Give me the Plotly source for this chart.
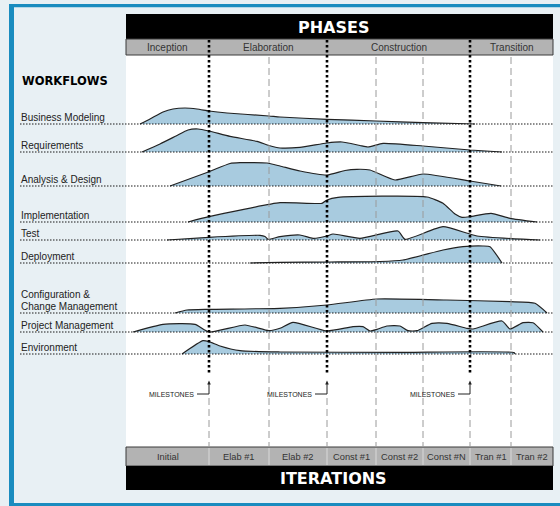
import plotly.graph_objects as go

# ------------------------------------------------------------------ data
phase_names = ["Inception", "Elaboration", "Construction", "Transition"]
phase_edges = [126, 209, 327, 470, 553]          # time axis positions
iteration_names = ["Initial", "Elab #1", "Elab #2", "Const #1", "Const #2",
                   "Const #N", "Tran #1", "Tran #2"]
iteration_edges = [126, 209, 269, 327, 376, 423, 470, 511, 553]
milestones = [209, 327, 470]

workflow_names = ["Business Modeling", "Requirements", "Analysis & Design",
                  "Implementation", "Test", "Deployment",
                  "Configuration &\nChange Management", "Project Management",
                  "Environment"]

# effort profiles: time positions and relative effort (height)
bm_t = [140, 150, 163, 173, 185, 197, 209, 227, 269, 280, 327, 376, 423, 475]
bm_h = [0, 5, 12, 15, 16, 15, 13, 11, 8, 7, 4.7, 3, 1.3, 0]

req_t = [142, 160, 176, 188, 198, 209, 230, 257, 269, 280, 300, 327, 342, 360, 368, 383, 423, 470, 502]
req_h = [0, 8, 16, 22, 23, 21, 15.6, 10.6, 6.5, 4, 4.6, 9, 10, 6.5, 5, 8.6, 6, 2, 0]

ad_t = [170, 209, 230, 240, 267, 280, 300, 327, 345, 357, 370, 395, 423, 470, 501]
ad_h = [0, 14.3, 22.5, 23.3, 23, 20, 15, 11, 15.5, 16.7, 16, 6, 12, 5, 0]

impl_t = [188, 209, 280, 322, 327, 338, 427, 443, 455, 462, 470, 491, 510, 537]
impl_h = [0, 5.3, 19.3, 18.7, 22, 24.7, 25, 18.7, 8, 4.7, 5.3, 8.7, 3.7, 0]

test_t = [167, 209, 260, 265, 268, 280, 300, 313, 327, 333, 360, 398, 405, 443, 477, 540]
test_h = [0, 2.7, 4.7, 3.5, 0.7, 3.3, 5, 1.7, 4, 6, 1.7, 9, 0.7, 13.3, 4, 0]

dep_t = [250, 280, 330, 380, 403, 443, 463, 483, 490, 502]
dep_h = [0, 0.7, 1, 1.5, 3, 13, 16.3, 17, 16.3, 0]

ccm_t = [175, 187, 209, 280, 327, 377, 447, 510, 535, 547]
ccm_h = [0, 3, 3.7, 4.7, 8, 14, 13, 11.3, 9.7, 0]

pm_t = [133, 163, 195, 209, 245, 269, 280, 293, 327, 353, 363, 370, 377, 387,
        400, 408, 417, 432, 447, 467, 473, 502, 510, 523, 533, 543]
pm_h = [0, 7.7, 7.7, 0, 7, 1.3, 3.7, 9.7, 1, 5.3, 5.3, 1, 2.7, 6,
        6, 1.3, 1.3, 8.7, 8.7, 3.7, 3, 11, 3, 9.3, 9.3, 0]

env_t = [182, 203, 209, 220, 240, 280, 400, 514, 515]
env_h = [0, 13.3, 12.3, 8, 3.3, 2, 1.7, 1.5, 0]

profiles = [(bm_t, bm_h), (req_t, req_h), (ad_t, ad_h), (impl_t, impl_h),
            (test_t, test_h), (dep_t, dep_h), (ccm_t, ccm_h), (pm_t, pm_h),
            (env_t, env_h)]

# ------------------------------------------------------------------ layout
W, H = 560, 506
row_base = [124, 152, 186, 222, 240, 263, 313, 332, 354]

BG = "#e8f0f4"
BLUE = "#1a8cbf"
FILL = "#a8cbdf"
GRAY = "#b3b3b3"
TXT = "#222222"
SANS = "Liberation Sans, Arial, sans-serif"
BOLD = "DejaVu Sans, Verdana, sans-serif"

fig = go.Figure()

for (t, h), base in zip(profiles, row_base):
    fig.add_trace(go.Scatter(x=t, y=[base] * len(t), mode="lines",
                             line=dict(width=0, color="rgba(0,0,0,0)"),
                             hoverinfo="skip", showlegend=False))
    fig.add_trace(go.Scatter(x=t, y=[base - v for v in h], mode="lines",
                             fill="tonexty", fillcolor=FILL,
                             line=dict(color="#222222", width=1.2,
                                       shape="spline", smoothing=0.5),
                             hoverinfo="skip", showlegend=False))

shapes = []
x0, x1 = phase_edges[0], phase_edges[-1]
# chart white area
shapes.append(dict(type="rect", x0=x0, x1=x1, y0=14, y1=490,
                   fillcolor="white", line=dict(width=0), layer="below"))
# blue frame
shapes.append(dict(type="rect", x0=9, x1=560, y0=4, y1=7.3, fillcolor=BLUE,
                   line=dict(width=0), layer="below"))
shapes.append(dict(type="rect", x0=9, x1=14, y0=4, y1=506, fillcolor=BLUE,
                   line=dict(width=0), layer="below"))
shapes.append(dict(type="rect", x0=9, x1=560, y0=503, y1=506, fillcolor=BLUE,
                   line=dict(width=0), layer="below"))
# header bars
shapes.append(dict(type="rect", x0=x0, x1=x1, y0=14, y1=39, fillcolor="black",
                   line=dict(width=0), layer="below"))
shapes.append(dict(type="rect", x0=x0, x1=x1, y0=39, y1=55, fillcolor=GRAY,
                   line=dict(width=1, color="#3a3a3a"), layer="below"))
shapes.append(dict(type="rect", x0=x0, x1=x1, y0=447, y1=466, fillcolor=GRAY,
                   line=dict(width=1, color="#3a3a3a"), layer="below"))
shapes.append(dict(type="rect", x0=x0, x1=x1, y0=466, y1=490, fillcolor="black",
                   line=dict(width=0), layer="below"))
# light separators in iteration bar
for e in iteration_edges[1:-1]:
    shapes.append(dict(type="line", x0=e, x1=e, y0=448, y1=465,
                       line=dict(color="#d9d9d9", width=1), layer="below"))
# dotted baselines
for base in row_base:
    shapes.append(dict(type="line", x0=20, x1=553, y0=base, y1=base,
                       line=dict(color="#1a1a1a", width=1.2, dash="1.5px,1.5px"),
                       layer="above"))
# dashed iteration lines
for e in iteration_edges[1:-1]:
    top = 398 if e in milestones else 57
    shapes.append(dict(type="line", x0=e, x1=e, y0=top, y1=447,
                       line=dict(color="#9a9a9a", width=1, dash="7px,4px"),
                       layer="above"))
# phase dotted lines + milestone connectors
for m in milestones:
    shapes.append(dict(type="line", x0=m, x1=m, y0=40, y1=373,
                       line=dict(color="black", width=2.6, dash="2.6px,2.4px"),
                       layer="above"))
    shapes.append(dict(type="line", x0=m - 12, x1=m, y0=394, y1=394,
                       line=dict(color="#222", width=1), layer="above"))
    shapes.append(dict(type="line", x0=m, x1=m, y0=394, y1=384,
                       line=dict(color="#222", width=1), layer="above"))
    shapes.append(dict(type="path", path=f"M {m-1.8} 384.5 L {m} 380.5 L {m+1.8} 384.5 Z",
                       fillcolor="#222", line=dict(width=0), layer="above"))

ann = []
ann.append(dict(x=333, y=27.5, text="<b>PHASES</b>", showarrow=False,
                font=dict(family=BOLD, size=16, color="white")))
ann.append(dict(x=333, y=478.5, text="<b>ITERATIONS</b>", showarrow=False,
                font=dict(family=BOLD, size=16, color="white")))
for i, name in enumerate(phase_names):
    ann.append(dict(x=(phase_edges[i] + phase_edges[i + 1]) / 2, y=47.5, text=name,
                    showarrow=False, font=dict(family=SANS, size=10, color="#333")))
for i, name in enumerate(iteration_names):
    ann.append(dict(x=(iteration_edges[i] + iteration_edges[i + 1]) / 2, y=457,
                    text=name, showarrow=False,
                    font=dict(family=SANS, size=9.3, color="#333")))
ann.append(dict(x=20, y=80.5, text="<b>WORKFLOWS</b>", showarrow=False, xanchor="left",
                font=dict(family=BOLD, size=11.5, color="black")))
for name, base in zip(workflow_names, row_base):
    lines = name.split("\n")
    for k, ln in enumerate(lines):
        yy = base - 6.8 - 12 * (len(lines) - 1 - k)
        ann.append(dict(x=19, y=yy, text=ln, showarrow=False, xanchor="left",
                        font=dict(family=SANS, size=10, color=TXT)))
for m in milestones:
    ann.append(dict(x=m - 13, y=394.5, text="MILESTONES", showarrow=False,
                    xanchor="right", font=dict(family=SANS, size=7, color="#222")))

fig.update_layout(
    width=W, height=H, margin=dict(l=0, r=0, t=0, b=0),
    paper_bgcolor=BG, plot_bgcolor=BG,
    xaxis=dict(range=[0, W], visible=False, fixedrange=True),
    yaxis=dict(range=[H, 0], visible=False, fixedrange=True),
    shapes=shapes, annotations=ann, showlegend=False,
)

fig.write_html("out.html", config={"displayModeBar": False},
               post_script="document.body.style.margin='0';")
